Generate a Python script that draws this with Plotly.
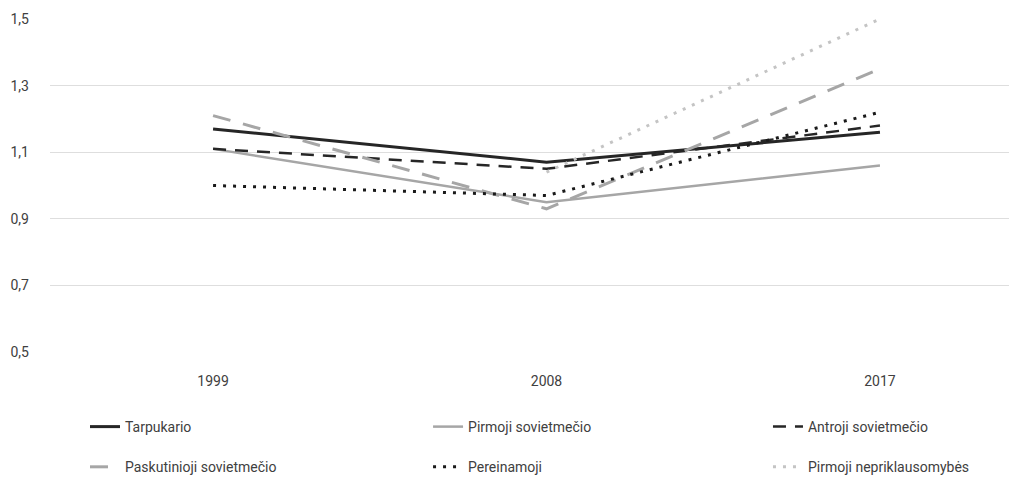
import plotly.graph_objects as go

years = ["1999", "2008", "2017"]
tarpukario = [1.17, 1.07, 1.16]
pirmoji_sov = [1.11, 0.95, 1.06]
antroji_sov = [1.11, 1.05, 1.18]
paskutinioji_sov = [1.21, 0.93, 1.35]
pereinamoji = [1.00, 0.97, 1.22]
pirmoji_nepr = [None, 1.04, 1.50]

series = [
    ("Tarpukario", tarpukario, "#262626", 3, "solid", "legend"),
    ("Pirmoji sovietmečio", pirmoji_sov, "#a6a6a6", 2.5, "solid", "legend2"),
    ("Antroji sovietmečio", antroji_sov, "#262626", 2.5, "13px,9px", "legend3"),
    ("Paskutinioji sovietmečio", paskutinioji_sov, "#a6a6a6", 3, "18px,13px", "legend"),
    ("Pereinamoji", pereinamoji, "#1a1a1a", 3, "3px,7px", "legend2"),
    ("Pirmoji nepriklausomybės", pirmoji_nepr, "#c4c4c4", 3, "3px,7px", "legend3"),
]

xi = list(range(len(years)))
fig = go.Figure()
for i, (name, vals, col, w, dash, lg) in enumerate(series):
    fig.add_trace(go.Scatter(
        x=xi, y=vals, name=name, mode="lines",
        line=dict(color=col, width=w, dash=dash),
        legend=lg, legendgroup="g%d" % i, connectgaps=False,
    ))

font_family = "Roboto, sans-serif"
leg_common = dict(orientation="v", xanchor="left", xref="container", yref="container",
                  y=0.1407, yanchor="top",
                  font=dict(size=14), tracegroupgap=19, bgcolor="rgba(0,0,0,0)")
# page body has an 8px default margin, so the figure is 8px smaller than the window
fig.update_layout(
    width=1009, height=469,
    margin=dict(l=42, r=0, t=11, b=125, autoexpand=False),
    paper_bgcolor="white", plot_bgcolor="white",
    separators=", ",
    font=dict(family=font_family, size=14, color="#404040"),
    xaxis=dict(
        tickvals=xi, ticktext=years, range=[-0.489, 2.411], automargin=False,
        showgrid=False, zeroline=False, showline=False,
        ticks="", ticklabelstandoff=19, tickfont=dict(size=14),
    ),
    yaxis=dict(
        range=[0.5, 1.5], tickvals=[0.5, 0.7, 0.9, 1.1, 1.3, 1.5], automargin=False,
        tickformat=".1f", showgrid=True, gridcolor="#dedede", gridwidth=1,
        zeroline=False, showline=False, ticks="", ticklabelstandoff=20,
        tickfont=dict(size=14),
    ),
    legend=dict(x=0.0763, **leg_common),
    legend2=dict(x=0.4163, **leg_common),
    legend3=dict(x=0.7532, **leg_common),
    showlegend=True,
)

fig.write_html("out.html")
